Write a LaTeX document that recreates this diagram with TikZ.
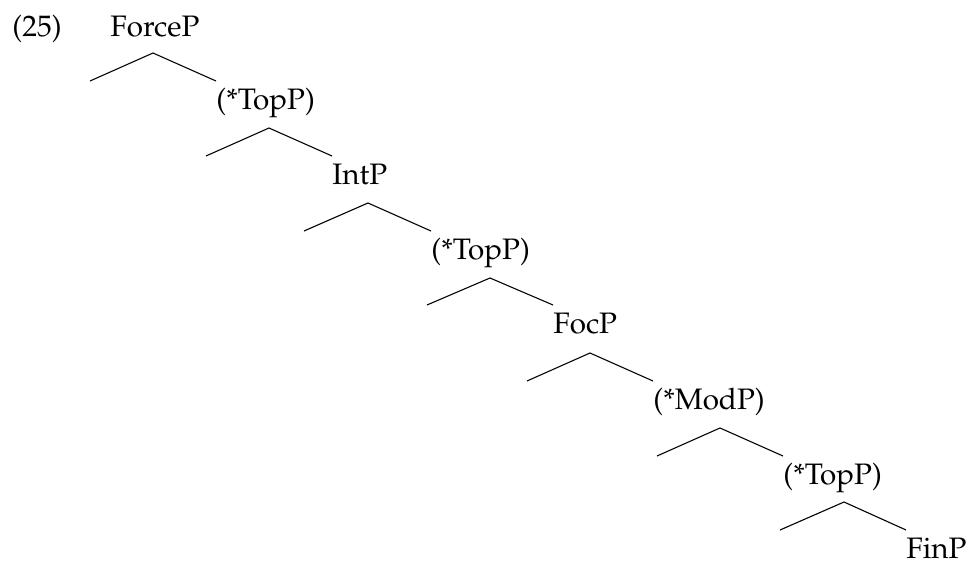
\documentclass[tikz,border=0pt]{standalone}
\usepackage[T1]{fontenc}
\usepackage{mathpazo}
\tikzset{
  cat/.style={inner xsep=0pt, inner ysep=0pt, text height=14pt, text depth=1pt, anchor=north west},
  branch/.style={line width=0.55pt}
}
\begin{document}
\begin{tikzpicture}[x=0.5pt, y=-0.5pt, font=\fontsize{14.8}{18}\selectfont]
	\useasboundingbox (0,0) rectangle (968,561);
	% example number and root
	\node[inner sep=0pt, anchor=base west] (num) at (12,37) {(25)};
	\node[inner sep=0pt, anchor=base west] (force) at (110,37) {ForceP};
	% apexes of the branches
	\coordinate (a1) at (153,53);
	\coordinate (a2) at (269,128);
	\coordinate (a3) at (368,203);
	\coordinate (a4) at (490,278);
	\coordinate (a5) at (590,353);
	\coordinate (a6) at (720,428);
	\coordinate (a7) at (844,502);
	% categories down the right edge
	\node[cat] (topa) at (216,81) {(*TopP)};
	\node[cat] (int) at (332,156) {IntP};
	\node[cat] (topb) at (431,231) {(*TopP)};
	\node[cat] (foc) at (553,305) {FocP};
	\node[cat] (mod) at (653,381) {(*ModP)};
	\node[cat] (topc) at (783,456) {(*TopP)};
	\node[cat] (fin) at (906,530) {FinP};
	% branches
	\draw[branch] (a1) +(-63,28) -- (a1) -- (topa.north west);
	\draw[branch] (a2) +(-63,28) -- (a2) -- (int.north west);
	\draw[branch] (a3) +(-64,28) -- (a3) -- (topb.north west);
	\draw[branch] (a4) +(-63,27) -- (a4) -- (foc.north west);
	\draw[branch] (a5) +(-63,28) -- (a5) -- (mod.north west);
	\draw[branch] (a6) +(-63,28) -- (a6) -- (topc.north west);
	\draw[branch] (a7) +(-64,28) -- (a7) -- (fin.north west);
\end{tikzpicture}
\end{document}
